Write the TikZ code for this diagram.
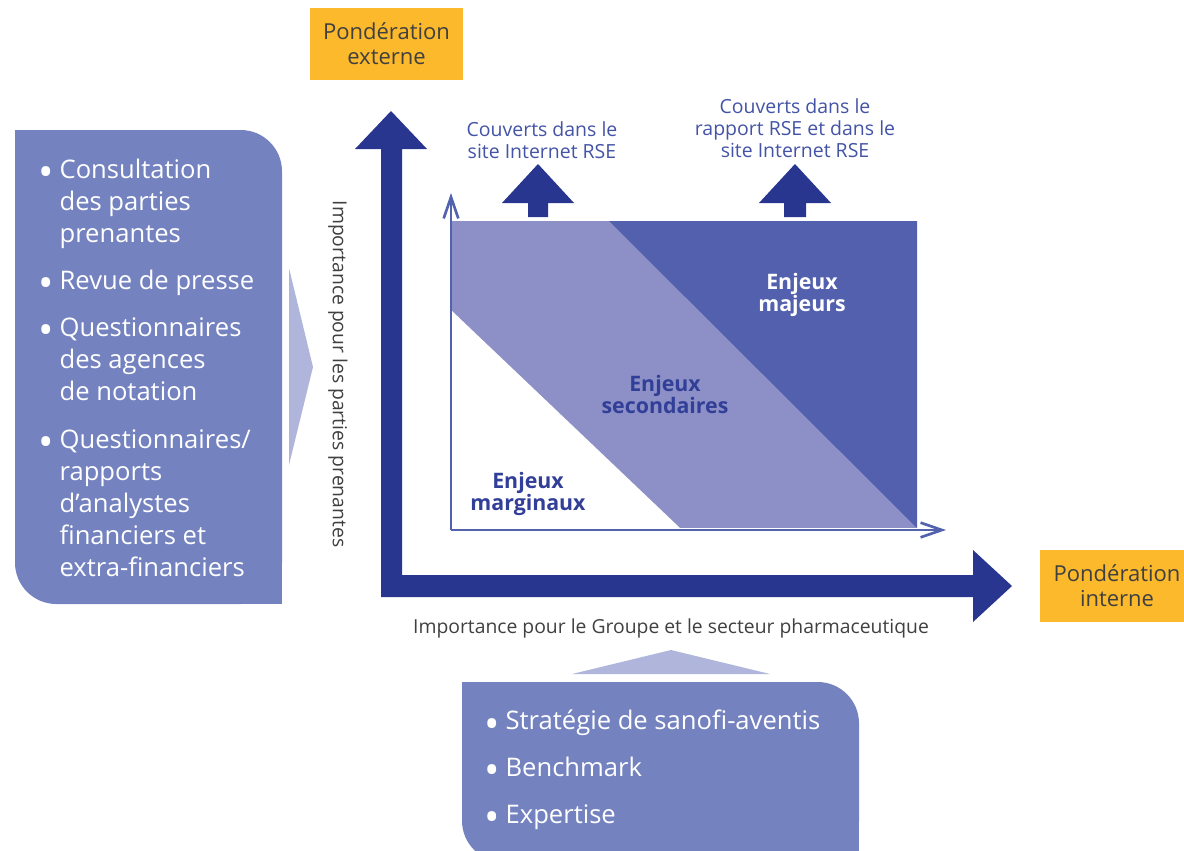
\documentclass[tikz,border=0pt]{standalone}
\usepackage{fontspec}
\setmainfont{Open Sans}
\usetikzlibrary{arrows.meta,positioning}
\definecolor{boxblue}{HTML}{7483C0}
\definecolor{pointer}{HTML}{B0B5DC}
\definecolor{deepblue}{HTML}{283690}
\definecolor{midzone}{HTML}{8C90C6}
\definecolor{darkzone}{HTML}{5260AD}
\definecolor{axisblue}{HTML}{5262AE}
\definecolor{labelblue}{HTML}{323F98}
\definecolor{noteblue}{HTML}{4353A6}
\definecolor{weightfill}{HTML}{FBB92B}
\definecolor{graytext}{HTML}{404040}
\newcommand{\bul}{\makebox[16pt][l]{\raisebox{-0.6ex}{\scalebox{1.6}{\textbullet}}}}
\newcommand{\ind}{\hspace*{16pt}}
\begin{document}
\begin{tikzpicture}[x=0.75pt,y=-0.75pt,
  listtext/.style={text=white, align=left, inner sep=0pt, anchor=north west, font=\fontsize{19.2}{24}\selectfont},
  weight/.style={fill=weightfill, text=graytext, align=center, minimum width=115pt, minimum height=54pt, font=\fontsize{16.5}{19}\selectfont},
  zonelabel/.style={align=center, inner sep=0pt, font=\bfseries\fontsize{16}{16.5}\selectfont},
  note/.style={text=noteblue, align=center, inner sep=0pt, font=\fontsize{14.6}{16.5}\selectfont},
  axislabel/.style={text=graytext, inner sep=0pt, font=\fontsize{14.5}{15}\selectfont},
  thinaxis/.style={draw=axisblue, line width=2pt, -{Straight Barb[length=16pt,width=11pt]}}]
\useasboundingbox (0,0) rectangle (1184,850);

% left list box
\fill[boxblue, rounded corners=31pt] (15,130) rectangle (282,604);
\fill[boxblue] (15,130) rectangle (150,300);
\fill[boxblue] (150,450) rectangle (282,604);
\fill[pointer] (289,268) -- (313,367) -- (289,465) -- cycle;
\node[listtext] (ext) at (38,159) {\bul Consultation\\ \ind des parties\\ \ind prenantes\\[11pt]
  \bul Revue de presse\\[11pt]
  \bul Questionnaires\\ \ind des agences\\ \ind de notation\\[12pt]
  \bul Questionnaires/\\ \ind rapports\\ \ind d'analystes\\ \ind financiers et\\ \ind extra-financiers};

% bottom list box
\fill[boxblue, rounded corners=31pt] (462,682) rectangle (859,862);
\fill[boxblue] (462,682) rectangle (600,760);
\fill[boxblue] (700,780) rectangle (859,862);
\fill[pointer] (572,674) -- (671,650) -- (770,674) -- cycle;
\node[listtext] (int) at (484,710) {\bul Stratégie de sanofi-aventis\\[11pt]
  \bul Benchmark\\[11pt]
  \bul Expertise};

% main axes
\fill[deepblue] (391,111) -- (427,149) -- (402,149) -- (402,575) -- (973,575) -- (973,550)
  -- (1012,586) -- (973,622) -- (973,597) -- (381,597) -- (381,149) -- (355,149) -- cycle;
\node[weight] (wext) at (386.5,44) {Pondération\\externe};
\node[weight, minimum width=120pt] (wint) at (1120,586) {};
\node[text=graytext, align=center, font=\fontsize{16.5}{19}\selectfont] (wintlab) at (1117,586) {Pondération\\interne};
\node[axislabel, rotate=-90] (ylab) at (338,374) {Importance pour les parties prenantes};
\node[axislabel] (xlab) at (671,628) {Importance pour le Groupe et le secteur pharmaceutique};

% zones
\fill[midzone] (452,221) rectangle (917,528);
\fill[darkzone] (609,221) -- (917,221) -- (917,528) -- cycle;
\fill[white] (452,311) -- (680,528) -- (452,528) -- cycle;
\coordinate (o) at (451,530);
\coordinate (ytip) at (451,193);
\coordinate (xtip) at (946,530);
\draw[thinaxis] (o) -- (ytip);
\draw[thinaxis] (o) -- (xtip);
\node[zonelabel, text=white] (major) at (802,295) {Enjeux\\majeurs};
\node[zonelabel, text=labelblue] (second) at (665,394) {Enjeux\\secondaires};
\node[zonelabel, text=labelblue] (marg) at (528,494) {Enjeux\\marginaux};

% coverage arrows
\fill[deepblue] (538,164) -- (574,203) -- (548,203) -- (548,217) -- (528,217) -- (528,203) -- (502,203) -- cycle;
\fill[deepblue] (795,164) -- (831,203) -- (806,203) -- (806,217) -- (784,217) -- (784,203) -- (759,203) -- cycle;
\node[note] (web) at (542,140) {Couverts dans le\\site Internet RSE};
\node[note] (both) at (795,128) {Couverts dans le\\rapport RSE et dans le\\site Internet RSE};
\end{tikzpicture}
\end{document}
